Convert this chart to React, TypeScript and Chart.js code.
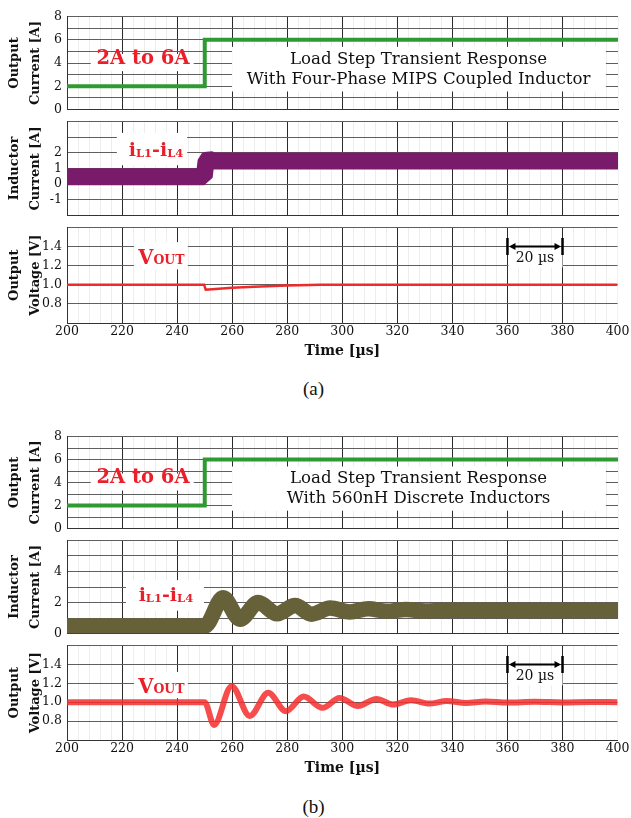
import React, { useEffect, useRef } from 'react';
import { Chart, registerables } from 'chart.js';
Chart.register(...registerables);

const SERIF = '"DejaVu Serif", serif';
const RED = '#ea1f2a';

// ---------- data ----------
const xTickLabels = [200, 220, 240, 260, 280, 300, 320, 340, 360, 380, 400];
const currentTickLabels = ['0', '2', '4', '6', '8'];
const aIndTickLabels = ['-1', '0', '1', '2'];
const bIndTickLabels = ['0', '2', '4'];
const voltTickLabels = ['0.8', '1.0', '1.2', '1.4'];

const stepTime = [200, 250, 250, 400];
const stepCurrent = [2, 2, 6, 6];

const aIndTime = [200, 249.8, 250.5, 251.4, 252.4, 253.6, 400];
const aIndCurrent = [0.48, 0.48, 1.5, 1.6, 1.52, 1.48, 1.48];

const aVoutTime = [200, 249.8, 250.4, 251.5, 260, 268, 280, 292, 400];
const aVout = [1.0, 1.0, 0.95, 0.952, 0.968, 0.98, 0.992, 1.0, 1.0];

const bIndTime = [200, 250, 256.7, 262.8, 269.4, 276.3, 282.8, 288.8, 295.5, 302.7, 309.4, 316, 323, 330, 337, 400];
const bIndCurrent = [0.48, 0.48, 2.3, 0.92, 2.0, 1.27, 1.8, 1.25, 1.64, 1.39, 1.6, 1.43, 1.55, 1.45, 1.5, 1.48];

const bVoutTime = [200, 250, 253.4, 259.8, 266.4, 273.1, 279.5, 286, 292.8, 299, 305.7, 312.4, 318.5, 325, 331.5, 338, 345, 352, 360, 370, 380, 390, 400];
const bVout = [1.0, 1.0, 0.76, 1.17, 0.855, 1.1, 0.905, 1.06, 0.94, 1.045, 0.96, 1.035, 0.975, 1.02, 0.985, 1.012, 0.992, 1.008, 0.997, 1.004, 0.998, 1.002, 1.0];

const toPts = (t: number[], v: number[]) => t.map((x, i) => ({ x, y: v[i] }));

// ---------- drawing helpers ----------
const X = (c: any, v: number) => c.scales.x.getPixelForValue(v);
const Y = (c: any, v: number) => c.scales.y.getPixelForValue(v);

function whiteBox(c: any, x0: number, x1: number, y0: number, y1: number) {
  const ctx = c.ctx;
  ctx.save();
  ctx.fillStyle = '#ffffff';
  const l = X(c, x0), r = X(c, x1), t = Y(c, y1), b = Y(c, y0);
  ctx.fillRect(l, t, r - l, b - t);
  ctx.restore();
}

function rich(c: any, cx: number, baseY: number, parts: [string, number, number][], color: string, weight = 'bold') {
  const ctx = c.ctx;
  ctx.save();
  ctx.fillStyle = color;
  ctx.textBaseline = 'alphabetic';
  ctx.textAlign = 'left';
  let w = 0;
  for (const [t, s] of parts) {
    ctx.font = `${weight} ${s}px ${SERIF}`;
    w += ctx.measureText(t).width;
  }
  let x = cx - w / 2;
  for (const [t, s, dy] of parts) {
    ctx.font = `${weight} ${s}px ${SERIF}`;
    ctx.fillText(t, x, baseY + dy);
    x += ctx.measureText(t).width;
  }
  ctx.restore();
}

function drawCurrentPanel(c: any, line2: string) {
  whiteBox(c, 208.6, 246.0, 3.3, 4.78);
  rich(c, X(c, 227.6), Y(c, 3.92), [['2A to 6A', 19.5, 0]], RED);
  whiteBox(c, 259.9, 395.6, 1.55, 5.39);
  rich(c, X(c, 327.6), Y(c, 3.92), [['Load Step Transient Response', 16.6, 0]], '#111', 'normal');
  rich(c, X(c, 327.6), Y(c, 2.2), [[line2, 16.6, 0]], '#111', 'normal');
}

function drawIndLabel(c: any, bx0: number, bx1: number, by0: number, by1: number, tx: number, base: number) {
  whiteBox(c, bx0, bx1, by0, by1);
  rich(c, X(c, tx), Y(c, base), [['i', 19, 0], ['L1', 11.5, 1], ['-', 19, 0], ['i', 19, 0], ['L4', 11.5, 1]], RED);
}

function drawVoutPanel(c: any, by0: number, by1: number, base: number) {
  whiteBox(c, 224.3, 243.9, by0, by1);
  rich(c, X(c, 234.3), Y(c, base), [['V', 19.5, 0], ['OUT', 12.5, 0]], RED);
  // 20 us marker
  const ctx = c.ctx;
  const x0 = X(c, 360), x1 = X(c, 380), y = Y(c, 1.4);
  ctx.save();
  ctx.fillStyle = '#ffffff';
  ctx.fillRect(x0 + 1, y + 4, x1 - x0 - 1, 17);
  ctx.strokeStyle = '#000';
  ctx.fillStyle = '#000';
  ctx.lineWidth = 2.5;
  ctx.beginPath();
  ctx.moveTo(x0, y - 8.5); ctx.lineTo(x0, y + 8.5);
  ctx.moveTo(x1, y - 8.5); ctx.lineTo(x1, y + 8.5);
  ctx.stroke();
  ctx.lineWidth = 2;
  ctx.beginPath();
  ctx.moveTo(x0 + 4, y); ctx.lineTo(x1 - 4, y);
  ctx.stroke();
  ctx.beginPath();
  ctx.moveTo(x0 + 1.5, y); ctx.lineTo(x0 + 8, y - 3.5); ctx.lineTo(x0 + 8, y + 3.5); ctx.closePath();
  ctx.moveTo(x1 - 1.5, y); ctx.lineTo(x1 - 8, y - 3.5); ctx.lineTo(x1 - 8, y + 3.5); ctx.closePath();
  ctx.fill();
  ctx.restore();
  rich(c, (x0 + x1) / 2, y + 15.5, [['20 µs', 14, 0]], '#111', 'normal');
}

// ---------- panel ----------
type PanelProps = {
  top: number; bottom: number;
  yMin: number; yMax: number; yStep: number; yLabels: string[]; dec: number;
  title: string[]; datasets: any[]; showX: boolean; draw: (c: any) => void;
};

function Panel(p: PanelProps) {
  const ref = useRef<HTMLCanvasElement>(null);
  const padTop = 10;
  const padBottom = p.showX ? 0 : 10;
  const xH = p.showX ? 45 : 0;
  const h = p.bottom - p.top + padTop + padBottom + xH;
  useEffect(() => {
    const chart = new Chart(ref.current as HTMLCanvasElement, {
      type: 'line',
      data: { datasets: p.datasets },
      options: {
        animation: false,
        responsive: false,
        devicePixelRatio: 1,
        layout: { padding: { top: padTop, bottom: padBottom, left: 0, right: 13 } },
        plugins: { legend: { display: false }, tooltip: { enabled: false } },
        elements: { point: { radius: 0 } },
        scales: {
          x: {
            type: 'linear', min: 200, max: 400,
            ticks: {
              stepSize: 4, autoSkip: false, maxRotation: 0, minRotation: 0,
              display: p.showX, padding: 1.5, color: '#111',
              font: { family: SERIF, size: 12.5 },
              callback: (v: any) => (xTickLabels.includes(Math.round(v)) ? String(Math.round(v)) : ''),
            },
            grid: {
              drawTicks: false,
              color: (ctx: any) => {
                const v = ctx.tick ? Math.round(ctx.tick.value) : -1;
                if (v === 400) return 'rgba(0,0,0,0.05)';
                return v % 20 === 0 ? '#2a2a2a' : 'rgba(0,0,0,0.07)';
              },
              lineWidth: 1,
            },
            border: { display: true, color: '#333' },
            title: {
              display: p.showX, text: 'Time [µs]', color: '#111',
              font: { family: SERIF, size: 14, weight: 'bold' },
              padding: { top: 0, bottom: 8.5 },
            },
            afterFit: (s: any) => { s.height = xH; },
          } as any,
          y: {
            type: 'linear', min: p.yMin, max: p.yMax,
            ticks: {
              stepSize: p.yStep, autoSkip: false, padding: 5, color: '#111',
              font: { family: SERIF, size: 12.5 },
              callback: (v: any) => {
                const s = (Math.round(v * 10) / 10).toFixed(p.dec);
                return p.yLabels.includes(s) ? s : '';
              },
            },
            grid: { drawTicks: false, color: '#5e5e5e', lineWidth: 1 },
            border: { display: true, color: '#333' },
            title: {
              display: true, text: p.title, color: '#111',
              font: { family: SERIF, size: 13, weight: 'bold', lineHeight: 1.55 },
              padding: { top: 5, bottom: 0 },
            },
            afterFit: (s: any) => { s.width = 67; },
          } as any,
        },
      },
      plugins: [{ id: 'ann', afterDraw: (c: any) => p.draw(c) }],
    });
    return () => chart.destroy();
  }, []);
  return (
    <canvas
      ref={ref}
      width={631}
      height={h}
      style={{ position: 'absolute', left: 0, top: p.top - padTop, width: 631, height: h, display: 'block' }}
    />
  );
}

const greenDs = () => ({ data: toPts(stepTime, stepCurrent), borderColor: '#2f9a31', borderWidth: 4, pointRadius: 0 });

export default function App() {
  return (
    <div style={{ position: 'absolute', left: 0, top: 0, width: 631, height: 818, background: '#fff', overflow: 'hidden' }}>
      {/* (a) */}
      <Panel top={14} bottom={112} yMin={0} yMax={8} yStep={1} yLabels={currentTickLabels} dec={0}
        title={['Output', 'Current [A]']} showX={false}
        datasets={[greenDs()]}
        draw={(c) => drawCurrentPanel(c, 'With Four-Phase MIPS Coupled Inductor')} />
      <Panel top={119} bottom={218} yMin={-2} yMax={4} yStep={1} yLabels={aIndTickLabels} dec={0}
        title={['Inductor', 'Current [A]']} showX={false}
        datasets={[{ data: toPts(aIndTime, aIndCurrent), borderColor: '#7a1a6b', borderWidth: 17, borderJoinStyle: 'bevel', borderCapStyle: 'butt', pointRadius: 0 }]}
        draw={(c) => drawIndLabel(c, 218.1, 243.6, 1.21, 3.27, 232.3, 1.82)} />
      <Panel top={225} bottom={323} yMin={0.6} yMax={1.6} yStep={0.2} yLabels={voltTickLabels} dec={1}
        title={['Output', 'Voltage [V]']} showX={true}
        datasets={[{ data: toPts(aVoutTime, aVout), borderColor: '#ee2b2b', borderWidth: 2.5, pointRadius: 0 }]}
        draw={(c) => drawVoutPanel(c, 1.161, 1.447, 1.219)} />
      <div style={{ position: 'absolute', left: 263.5, width: 100, top: 378, textAlign: 'center', fontFamily: '"Liberation Serif", serif', fontSize: 19, lineHeight: '22px', color: '#111' }}>(a)</div>

      {/* (b) */}
      <Panel top={434} bottom={531} yMin={0} yMax={8} yStep={1} yLabels={currentTickLabels} dec={0}
        title={['Output', 'Current [A]']} showX={false}
        datasets={[greenDs()]}
        draw={(c) => drawCurrentPanel(c, 'With 560nH Discrete Inductors')} />
      <Panel top={538} bottom={636} yMin={0} yMax={6} yStep={1} yLabels={bIndTickLabels} dec={0}
        title={['Inductor', 'Current [A]']} showX={false}
        datasets={[{ data: toPts(bIndTime, bIndCurrent), borderColor: '#67613a', borderWidth: 15.5, borderJoinStyle: 'round', borderCapStyle: 'butt', cubicInterpolationMode: 'monotone', pointRadius: 0 }]}
        draw={(c) => drawIndLabel(c, 221.4, 249.7, 1.47, 3.44, 235.9, 2.11)} />
      <Panel top={643} bottom={740} yMin={0.6} yMax={1.6} yStep={0.2} yLabels={voltTickLabels} dec={1}
        title={['Output', 'Voltage [V]']} showX={true}
        datasets={[{ data: toPts(bVoutTime, bVout), borderColor: 'rgba(245,45,45,0.85)', borderWidth: 6, cubicInterpolationMode: 'monotone', pointRadius: 0 }]}
        draw={(c) => drawVoutPanel(c, 1.043, 1.32, 1.098)} />
      <div style={{ position: 'absolute', left: 263.5, width: 100, top: 796, textAlign: 'center', fontFamily: '"Liberation Serif", serif', fontSize: 19, lineHeight: '22px', color: '#111' }}>(b)</div>
    </div>
  );
}
